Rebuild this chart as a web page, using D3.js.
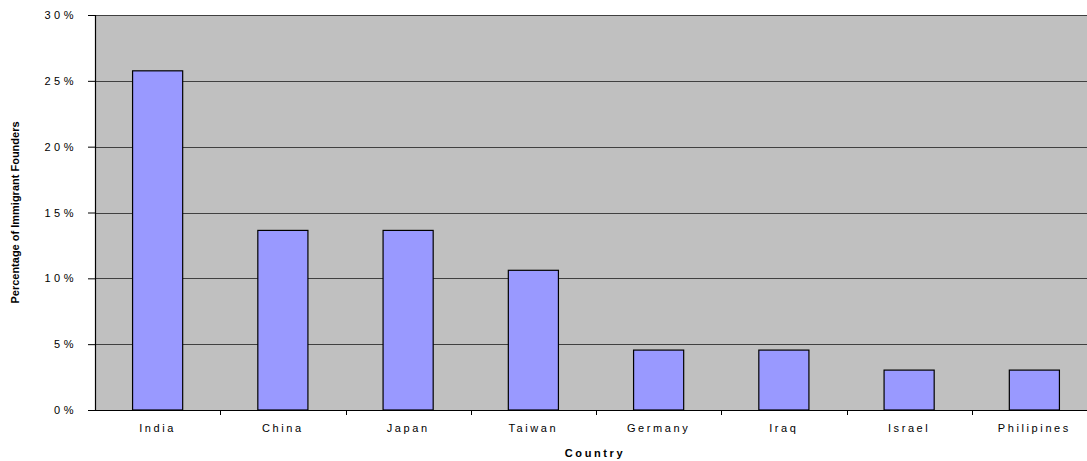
<!DOCTYPE html>
<html>
<head>
<meta charset="utf-8">
<script src="https://cdn.jsdelivr.net/npm/d3@7"></script>
<style>
  body { margin: 0; background: #fff; }
  svg text { font-family: "Liberation Sans", Arial, sans-serif; }
</style>
</head>
<body>
<svg></svg>
<script>
const width = 1087
const height = 461
const margin = {top: 15, right: -10, bottom: 51, left: 95}

const countries = ['India', 'China', 'Japan', 'Taiwan', 'Germany', 'Iraq', 'Israel', 'Philipines']
const shares = [25.76, 13.64, 13.64, 10.61, 4.55, 4.55, 3.03, 3.03]
const yTicks = [0, 5, 10, 15, 20, 25, 30]

let svg = d3.select('svg')
    .attr('width', width)
    .attr('height', height)

let xScale = d3.scaleBand()
    .domain(countries)
    .range([margin.left, width - margin.right])
    .paddingInner(0.6)
    .paddingOuter(0.3)

let yScale = d3.scaleLinear()
    .domain([0, 30])
    .range([height - margin.bottom, margin.top])

// plot background
svg.append('rect')
    .attr('x', margin.left)
    .attr('y', margin.top)
    .attr('width', width - margin.right - margin.left)
    .attr('height', height - margin.bottom - margin.top)
    .attr('fill', '#c0c0c0')

// gridlines
svg.append('g')
    .selectAll('line')
    .data(yTicks.slice(1))
    .enter()
    .append('line')
    .attr('x1', margin.left)
    .attr('x2', width)
    .attr('y1', d => Math.round(yScale(d)) + 0.5)
    .attr('y2', d => Math.round(yScale(d)) + 0.5)
    .attr('stroke', '#404040')
    .attr('stroke-width', 1)

// bars
svg.append('g')
    .selectAll('rect')
    .data(countries)
    .enter()
    .append('rect')
    .attr('x', d => xScale(d))
    .attr('y', (d, i) => yScale(shares[i]))
    .attr('width', xScale.bandwidth())
    .attr('height', (d, i) => yScale(0) - yScale(shares[i]))
    .attr('fill', '#9999ff')
    .attr('stroke', '#000')
    .attr('stroke-width', 1.2)

// y axis
let yAxis = d3.axisLeft(yScale)
    .tickValues(yTicks)
    .tickSize(7)
    .tickPadding(11)
    .tickFormat(d => d + '%')

let gy = svg.append('g')
    .attr('transform', 'translate(' + margin.left + ',0)')
    .call(yAxis)
gy.select('.domain').attr('stroke', '#000').attr('stroke-width', 1.2)
gy.selectAll('.tick line').attr('stroke', '#000')
gy.selectAll('.tick text')
    .attr('font-size', 11)
    .style('letter-spacing', '3.5px')
    .attr('fill', '#000')

// x axis
let band = xScale.step()
let xAxis = d3.axisBottom(xScale)
    .tickSize(0)
    .tickPadding(14)

let gx = svg.append('g')
    .attr('transform', 'translate(0,' + (height - margin.bottom) + ')')
    .call(xAxis)
gx.select('.domain').attr('stroke', '#000').attr('stroke-width', 1.2)
gx.selectAll('.tick text')
    .attr('font-size', 11)
    .style('letter-spacing', '2.6px')
    .attr('fill', '#000')

// category boundary ticks
gx.selectAll('.sep')
    .data(countries.slice(1))
    .enter()
    .append('line')
    .attr('class', 'sep')
    .attr('x1', d => Math.round(xScale(d) + xScale.bandwidth() / 2 - band / 2) + 0.5)
    .attr('x2', d => Math.round(xScale(d) + xScale.bandwidth() / 2 - band / 2) + 0.5)
    .attr('y1', 0)
    .attr('y2', 5)
    .attr('stroke', '#000')

// axis titles
svg.append('text')
    .attr('x', 595)
    .attr('y', 457)
    .attr('text-anchor', 'middle')
    .attr('font-size', 11)
    .attr('font-weight', 'bold')
    .style('letter-spacing', '2.6px')
    .text('Country')

svg.append('text')
    .attr('transform', 'translate(19,' + ((margin.top + height - margin.bottom) / 2) + ') rotate(-90)')
    .attr('text-anchor', 'middle')
    .attr('font-size', 11)
    .attr('font-weight', 'bold')
    .text('Percentage of Immigrant Founders')
</script>
</body>
</html>
